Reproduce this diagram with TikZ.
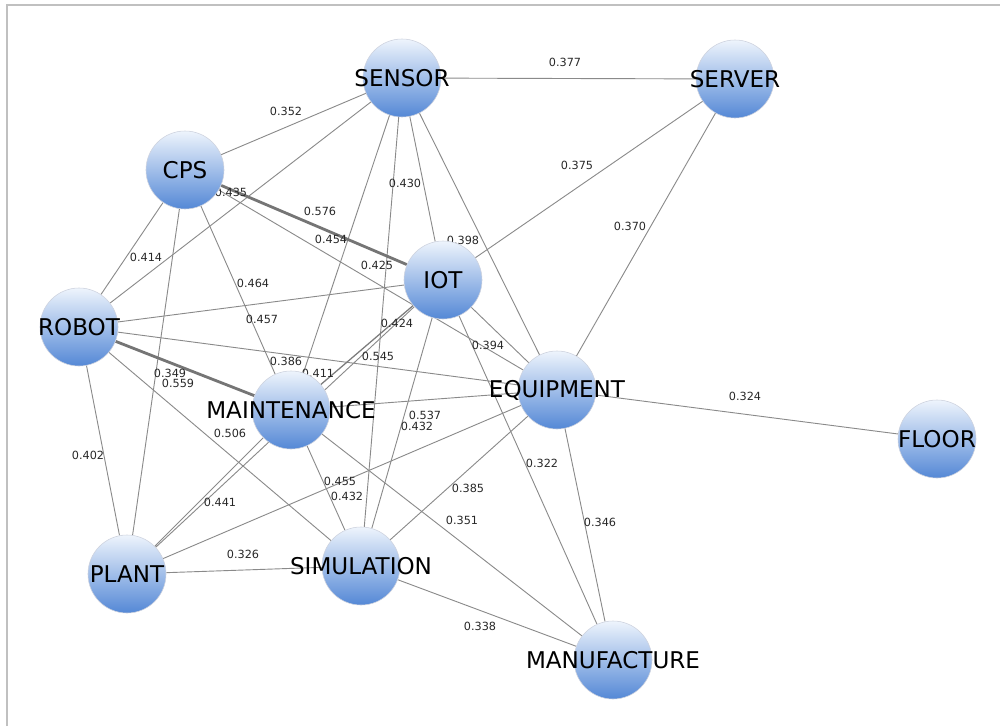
\documentclass[tikz,border=0pt]{standalone}
\usepackage{fontspec}
\setmainfont{DejaVu Sans}
\pgfdeclarelayer{background}
\pgfsetlayers{background,main}
\definecolor{edgec}{RGB}{138,138,138}
\definecolor{topc}{RGB}{238,244,252}
\definecolor{botc}{RGB}{84,136,214}
\definecolor{rimc}{RGB}{205,210,222}
\definecolor{framec}{RGB}{192,192,192}
\definecolor{wtc}{RGB}{40,40,40}
\begin{document}
\begin{tikzpicture}[x=0.025cm,y=-0.025cm,
	hub/.style={circle,draw=rimc,line width=0.4pt,top color=topc,bottom color=botc,minimum size=1.95cm,inner sep=0pt},
	lab/.style={font=\fontsize{16.4}{18}\selectfont,text=black,inner sep=0pt},
	wt/.style={font=\fontsize{8}{9}\selectfont,text=wtc,inner sep=0pt},
	tie/.style={draw=edgec,line width=0.65pt},
	mid/.style={draw=edgec!90!black,line width=0.9pt},
	heavy/.style={draw=edgec!85!black,line width=2pt}]
	\useasboundingbox (0,0) rectangle (1000,726);
	\node[hub,label={[lab]center:SENSOR}] (sen) at (402,78) {};
	\node[hub,label={[lab]center:SERVER}] (ser) at (735,79) {};
	\node[hub,label={[lab]center:CPS}] (cps) at (185,170) {};
	\node[hub,label={[lab]center:IOT}] (iot) at (443,280) {};
	\node[hub,label={[lab]center:ROBOT}] (rob) at (79,327) {};
	\node[hub,label={[lab]center:MAINTENANCE}] (mai) at (291,410) {};
	\node[hub,label={[lab]center:EQUIPMENT}] (equ) at (557,390) {};
	\node[hub,label={[lab]center:FLOOR}] (flo) at (937,439) {};
	\node[hub,label={[lab]center:PLANT}] (pla) at (127,574) {};
	\node[hub,label={[lab]center:SIMULATION}] (sim) at (361,566) {};
	\node[hub,label={[lab]center:MANUFACTURE}] (man) at (613,660) {};
	
	\begin{pgfonlayer}{background}
	\draw[framec,line width=1.4pt] (7,726) -- (7,5) -- (1000,5);
	\draw[tie] (cps) -- (sen) -- (ser) -- (equ) -- (flo);
	\draw[tie] (rob) -- (sen) -- (mai);
	\draw[tie] (sen) -- (iot);
	\draw[tie] (sen) -- (sim);
	\draw[tie] (sen) -- (equ);
	\draw[tie] (ser) -- (iot) -- (equ) -- (man) -- (sim) -- (pla) -- (rob) -- (cps) -- (pla);
	\draw[tie] (cps) -- (mai) -- (sim) -- (iot) -- (man);
	\draw[tie] (cps) -- (equ) -- (rob) -- (iot) -- (pla) -- (mai) -- (equ) -- (pla);
	\draw[tie] (rob) -- (sim) -- (equ);
	\draw[tie] (mai) -- (man);
	\draw[mid] (iot) -- (mai);
	\draw[heavy] (cps) -- (iot);
	\draw[heavy] (rob) -- (mai);
	
	\node[wt] (w1) at (565,62) {0.377};
	\node[wt] (w2) at (286,111) {0.352};
	\node[wt] (w3) at (231,192) {0.435};
	\node[wt] (w4) at (320,211) {0.576};
	\node[wt] (w5) at (331,239) {0.454};
	\node[wt] (w6) at (377,265) {0.425};
	\node[wt] (w7) at (405,183) {0.430};
	\node[wt] (w8) at (146,257) {0.414};
	\node[wt] (w9) at (253,283) {0.464};
	\node[wt] (w10) at (262,319) {0.457};
	\node[wt] (w11) at (170,373) {0.349};
	\node[wt] (w12) at (178,383) {0.559};
	\node[wt] (w13) at (286,361) {0.386};
	\node[wt] (w14) at (318,373) {0.411};
	\node[wt] (w15) at (397,323) {0.424};
	\node[wt] (w16) at (378,356) {0.545};
	\node[wt] (w17) at (488,345) {0.394};
	\node[wt] (w18) at (425,415) {0.537};
	\node[wt] (w19) at (417,426) {0.432};
	\node[wt] (w20) at (463,240) {0.398};
	\node[wt] (w21) at (577,165) {0.375};
	\node[wt] (w22) at (630,226) {0.370};
	\node[wt] (w23) at (745,396) {0.324};
	\node[wt] (w24) at (88,455) {0.402};
	\node[wt] (w25) at (230,433) {0.506};
	\node[wt] (w26) at (220,502) {0.441};
	\node[wt] (w27) at (340,481) {0.455};
	\node[wt] (w28) at (347,496) {0.432};
	\node[wt] (w29) at (243,554) {0.326};
	\node[wt] (w30) at (542,463) {0.322};
	\node[wt] (w31) at (468,488) {0.385};
	\node[wt] (w32) at (462,520) {0.351};
	\node[wt] (w33) at (600,522) {0.346};
	\node[wt] (w34) at (480,626) {0.338};
	\end{pgfonlayer}
\end{tikzpicture}
\end{document}
